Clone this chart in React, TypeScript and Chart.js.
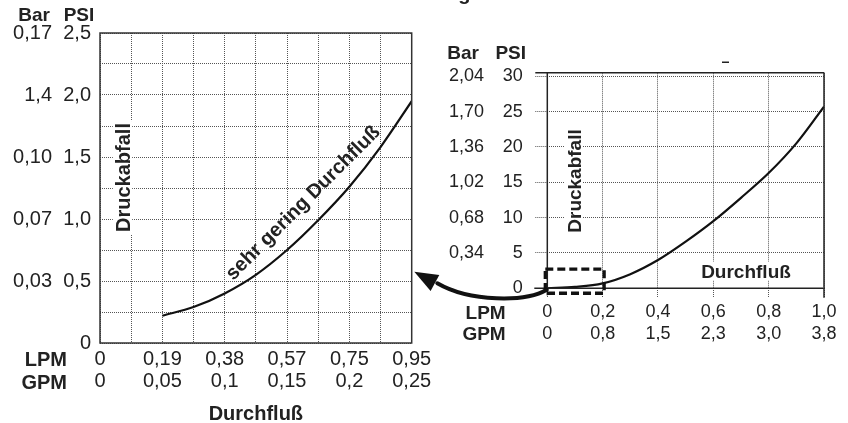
import React, { useEffect, useRef } from 'react';
import { Chart, registerables } from 'chart.js';

Chart.register(...registerables);

// ---------------- data ----------------
const titleText = 'Druckabfall bei niedrigem Durchfluß';
const flowLabel = 'Durchfluß';
const dropLabel = 'Druckabfall';
const curveLabel = 'sehr gering Durchfluß';
const rowLabels = ['LPM', 'GPM'];
const unitLabels = ['Bar', 'PSI'];

// left panel: very low flow (x in GPM, y in PSI)
const lowFlowGpm = [0.05, 0.075, 0.1, 0.125, 0.15, 0.175, 0.2, 0.225, 0.25];
const lowFlowPsi = [0.22, 0.29, 0.4, 0.55, 0.75, 0.99, 1.26, 1.58, 1.95];
const lowXTicks = [0, 0.025, 0.05, 0.075, 0.1, 0.125, 0.15, 0.175, 0.2, 0.225, 0.25];
const lowLpmLabels = ['0', '0,19', '0,38', '0,57', '0,75', '0,95'];
const lowGpmLabels = ['0', '0,05', '0,1', '0,15', '0,2', '0,25'];
const lowYTicks = [0, 0.25, 0.5, 0.75, 1, 1.25, 1.5, 1.75, 2, 2.25, 2.5];
const lowPsiLabels = ['0', '0,5', '1,0', '1,5', '2,0', '2,5'];
const lowBarTicks = [0, 0.5, 1, 1.5, 2, 2.5];
const lowBarLabels = ['', '0,03', '0,07', '0,10', '1,4', '0,17'];

// right panel: full range (x in LPM, y in PSI)
const fullLpm = [0, 0.1, 0.2, 0.3, 0.4, 0.5, 0.6, 0.7, 0.8, 0.9, 1.0];
const fullPsi = [0, 0.2, 0.7, 2.0, 4.0, 6.6, 9.5, 12.8, 16.3, 20.5, 25.7];
const fullXTicks = [0, 0.2, 0.4, 0.6, 0.8, 1.0];
const fullLpmLabels = ['0', '0,2', '0,4', '0,6', '0,8', '1,0'];
const fullGpmLabels = ['0', '0,8', '1,5', '2,3', '3,0', '3,8'];
const fullYTicks = [0, 5, 10, 15, 20, 25, 30];
const fullPsiLabels = ['0', '5', '10', '15', '20', '25', '30'];
const fullBarLabels = ['', '0,34', '0,68', '1,02', '1,36', '1,70', '2,04'];
const zoomBoxLpm = [0, 0.2];
const zoomBoxPsi = [-0.7, 2.7];

// ---------------- styling ----------------
const FONT = "'Liberation Sans', Arial, Helvetica, sans-serif";
const INK = '#222';
const GRID = '#555';

function drawText(
  ctx: CanvasRenderingContext2D,
  text: string,
  x: number,
  y: number,
  size: number,
  bold: boolean,
  align: CanvasTextAlign = 'center',
  angle = 0,
  bg = false
) {
  ctx.save();
  ctx.translate(x, y);
  ctx.rotate(angle);
  ctx.font = `${bold ? 'bold ' : ''}${size}px ${FONT}`;
  ctx.textAlign = align;
  ctx.textBaseline = 'alphabetic';
  const cap = size * 0.716;
  if (bg) {
    const w = ctx.measureText(text).width;
    const x0 = align === 'center' ? -w / 2 : align === 'right' ? -w : 0;
    ctx.fillStyle = '#fff';
    ctx.fillRect(x0 - 2, -cap / 2 - 3, w + 4, cap + 5);
  }
  ctx.fillStyle = INK;
  ctx.fillText(text, 0, cap / 2);
  ctx.restore();
}

function line(ctx: CanvasRenderingContext2D, x1: number, y1: number, x2: number, y2: number) {
  ctx.beginPath();
  ctx.moveTo(x1, y1);
  ctx.lineTo(x2, y2);
  ctx.stroke();
}

const leftDecor = {
  id: 'leftDecor',
  afterDraw(chart: any) {
    const ctx: CanvasRenderingContext2D = chart.ctx;
    const { left, right, top, bottom } = chart.chartArea;
    ctx.save();
    ctx.strokeStyle = '#333';
    ctx.lineWidth = 1.5;
    ctx.strokeRect(left, top, right - left, bottom - top);
    ctx.restore();

    // title (clipped at top of picture)
    ctx.save();
    ctx.font = `bold 20px ${FONT}`;
    ctx.textAlign = 'center';
    ctx.textBaseline = 'alphabetic';
    ctx.fillStyle = INK;
    ctx.fillText(titleText, 427, 0.2);
    ctx.restore();

    drawText(ctx, unitLabels[0], 34, 14, 19, true);
    drawText(ctx, unitLabels[1], 79, 14, 19, true);
    drawText(ctx, rowLabels[0], 67, 359, 20, true, 'right');
    drawText(ctx, rowLabels[1], 67, 382, 20, true, 'right');
    drawText(ctx, dropLabel, 123, 177.5, 20, true, 'center', -Math.PI / 2, true);
    drawText(ctx, curveLabel, 302, 202, 20, true, 'center', -Math.PI / 4, false);
  },
};

const rightDecor = {
  id: 'rightDecor',
  afterDraw(chart: any) {
    const ctx: CanvasRenderingContext2D = chart.ctx;
    const { left, right, top, bottom } = chart.chartArea;
    const xs = chart.scales.x;
    const ys = chart.scales.y;
    const ox = xs.getPixelForValue(0);
    const oy = ys.getPixelForValue(0);

    ctx.save();
    ctx.strokeStyle = INK;
    ctx.lineWidth = 1.5;
    line(ctx, left - 12, top, right, top);
    line(ctx, right, top, right, bottom + 9.5);
    line(ctx, left, top, left, bottom + 7);
    line(ctx, left - 13, oy, right - 1, oy);
    ctx.restore();

    drawText(ctx, unitLabels[0], 463, 52.5, 19, true);
    drawText(ctx, unitLabels[1], 510.7, 52.5, 19, true);
    drawText(ctx, rowLabels[0], 505.7, 312, 19, true, 'right');
    drawText(ctx, rowLabels[1], 505.7, 333.5, 19, true, 'right');
    drawText(ctx, dropLabel, 574, 181, 19, true, 'center', -Math.PI / 2, true);
    drawText(ctx, flowLabel, 746, 271.5, 19, true, 'center', 0, true);

    // small stray mark near top
    ctx.save();
    ctx.fillStyle = INK;
    ctx.fillRect(722, 61.5, 7, 1.5);
    ctx.restore();

    // dashed zoom box
    const bx0 = xs.getPixelForValue(zoomBoxLpm[0]) - 2;
    const bx1 = xs.getPixelForValue(zoomBoxLpm[1]) + 1.5;
    const by0 = ys.getPixelForValue(zoomBoxPsi[1]);
    const by1 = ys.getPixelForValue(zoomBoxPsi[0]);
    ctx.save();
    ctx.strokeStyle = '#111';
    ctx.lineWidth = 3.3;
    ctx.setLineDash([8, 4]);
    ctx.strokeRect(bx0, by0, bx1 - bx0, by1 - by0);
    ctx.restore();

    // curved arrow to the left panel
    ctx.save();
    ctx.strokeStyle = '#111';
    ctx.fillStyle = '#111';
    ctx.lineWidth = 4;
    ctx.lineCap = 'round';
    ctx.beginPath();
    ctx.moveTo(ox - 0.5, oy + 1.5);
    ctx.bezierCurveTo(ox - 22, oy + 14, ox - 77, oy + 14, ox - 110, oy - 5);
    ctx.stroke();
    ctx.beginPath();
    ctx.moveTo(ox - 133, oy - 16.6);
    ctx.lineTo(ox - 108, oy - 13.2);
    ctx.lineTo(ox - 116.7, oy + 2.6);
    ctx.closePath();
    ctx.fill();
    ctx.restore();
  },
};

function leftConfig(): any {
  return {
    type: 'line',
    data: {
      datasets: [
        {
          data: lowFlowGpm.map((x, i) => ({ x, y: lowFlowPsi[i] })),
          borderColor: '#111',
          borderWidth: 2.2,
          pointRadius: 0,
          cubicInterpolationMode: 'monotone',
          fill: false,
        },
      ],
    },
    options: {
      responsive: false,
      animation: false,
      events: [],
      layout: { padding: { left: 5, top: 33, right: 436.3, bottom: 0 } },
      plugins: { legend: { display: false }, tooltip: { enabled: false } },
      scales: {
        x: {
          type: 'linear',
          position: 'bottom',
          min: 0,
          max: 0.25,
          afterBuildTicks: (s: any) => {
            s.ticks = lowXTicks.map((value) => ({ value }));
          },
          afterFit: (s: any) => {
            s.height = 80;
          },
          ticks: {
            autoSkip: false,
            maxRotation: 0,
            minRotation: 0,
            padding: 4.6,
            color: INK,
            font: { family: FONT, size: 20, lineHeight: 1.14 },
            callback: (_v: any, i: number) =>
              i % 2 === 0 ? [lowLpmLabels[i / 2], lowGpmLabels[i / 2]] : '',
          },
          grid: { color: GRID, lineWidth: 1, drawTicks: false },
          border: { display: false, dash: [1, 1] },
          title: {
            display: true,
            text: flowLabel,
            color: INK,
            font: { family: FONT, size: 20, weight: 'bold', lineHeight: 0.9 },
            padding: { top: 0, bottom: 0 },
          },
        },
        y: {
          type: 'linear',
          position: 'left',
          weight: 0,
          min: 0,
          max: 2.5,
          afterBuildTicks: (s: any) => {
            s.ticks = lowYTicks.map((value) => ({ value }));
          },
          afterFit: (s: any) => {
            s.width = 45;
          },
          ticks: {
            autoSkip: false,
            padding: 9,
            color: INK,
            font: { family: FONT, size: 20 },
            callback: (_v: any, i: number) => (i % 2 === 0 ? lowPsiLabels[i / 2] : ''),
          },
          grid: { color: GRID, lineWidth: 1, drawTicks: false },
          border: { display: false, dash: [1, 1] },
        },
        yBar: {
          type: 'linear',
          position: 'left',
          weight: 1,
          min: 0,
          max: 2.5,
          afterBuildTicks: (s: any) => {
            s.ticks = lowBarTicks.map((value) => ({ value }));
          },
          afterFit: (s: any) => {
            s.width = 50;
          },
          ticks: {
            autoSkip: false,
            padding: 3,
            color: INK,
            font: { family: FONT, size: 20 },
            callback: (_v: any, i: number) => lowBarLabels[i],
          },
          grid: { display: false, drawTicks: false },
          border: { display: false },
        },
      },
    },
    plugins: [leftDecor],
  };
}

function rightConfig(): any {
  return {
    type: 'line',
    data: {
      datasets: [
        {
          data: fullLpm.map((x, i) => ({ x, y: fullPsi[i] })),
          borderColor: '#111',
          borderWidth: 2.2,
          pointRadius: 0,
          cubicInterpolationMode: 'monotone',
          fill: false,
        },
      ],
    },
    options: {
      responsive: false,
      animation: false,
      events: [],
      layout: { padding: { left: 440, top: 72.7, right: 24, bottom: 0 } },
      plugins: { legend: { display: false }, tooltip: { enabled: false } },
      scales: {
        x: {
          type: 'linear',
          position: 'bottom',
          min: 0,
          max: 1,
          afterBuildTicks: (s: any) => {
            s.ticks = fullXTicks.map((value) => ({ value }));
          },
          afterFit: (s: any) => {
            s.height = 134.7;
          },
          ticks: {
            autoSkip: false,
            maxRotation: 0,
            minRotation: 0,
            padding: 4,
            color: INK,
            font: { family: FONT, size: 18, lineHeight: 1.2 },
            callback: (_v: any, i: number) => [fullLpmLabels[i], fullGpmLabels[i]],
          },
          grid: {
            color: GRID,
            lineWidth: 1,
            drawTicks: true,
            tickLength: 9,
            tickColor: GRID,
            tickBorderDash: [1, 1],
          },
          border: { display: false, dash: [1, 1] },
        },
        y: {
          type: 'linear',
          position: 'left',
          weight: 0,
          min: 0,
          max: 30.5,
          afterBuildTicks: (s: any) => {
            s.ticks = fullYTicks.map((value) => ({ value }));
          },
          afterFit: (s: any) => {
            s.width = 52;
          },
          ticks: {
            autoSkip: false,
            padding: 12.5,
            color: INK,
            font: { family: FONT, size: 18 },
            callback: (_v: any, i: number) => fullPsiLabels[i],
          },
          grid: {
            color: GRID,
            lineWidth: 1,
            drawTicks: true,
            tickLength: 12,
            tickColor: GRID,
            tickBorderDash: [1, 1],
          },
          border: { display: false, dash: [1, 1] },
        },
        yBar: {
          type: 'linear',
          position: 'left',
          weight: 1,
          min: 0,
          max: 30.5,
          afterBuildTicks: (s: any) => {
            s.ticks = fullYTicks.map((value) => ({ value }));
          },
          afterFit: (s: any) => {
            s.width = 55.3;
          },
          ticks: {
            autoSkip: false,
            padding: 11.3,
            color: INK,
            font: { family: FONT, size: 18 },
            callback: (_v: any, i: number) => fullBarLabels[i],
          },
          grid: { display: false, drawTicks: false },
          border: { display: false },
        },
      },
    },
    plugins: [rightDecor],
  };
}

export default function App() {
  const leftRef = useRef<HTMLCanvasElement>(null);
  const rightRef = useRef<HTMLCanvasElement>(null);

  useEffect(() => {
    const a = new Chart(leftRef.current as HTMLCanvasElement, leftConfig());
    const b = new Chart(rightRef.current as HTMLCanvasElement, rightConfig());
    return () => {
      a.destroy();
      b.destroy();
    };
  }, []);

  return (
    <div
      style={{
        position: 'absolute',
        left: 0,
        top: 0,
        width: 848,
        height: 423,
        background: '#fff',
        overflow: 'hidden',
      }}
    >
      <canvas ref={leftRef} width={848} height={423} style={{ position: 'absolute', left: 0, top: 0 }} />
      <canvas ref={rightRef} width={848} height={423} style={{ position: 'absolute', left: 0, top: 0 }} />
    </div>
  );
}
